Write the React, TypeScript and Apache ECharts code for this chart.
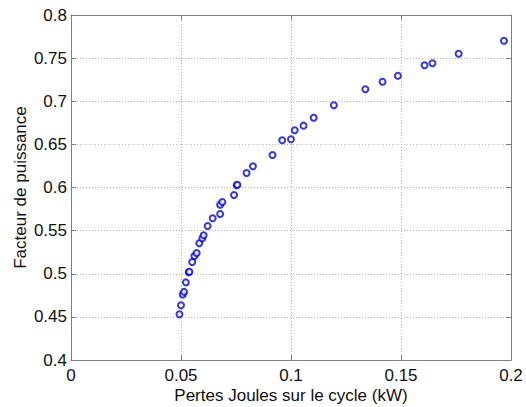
import React, { useEffect, useRef } from "react";
import * as echarts from "echarts";

const xValues = [
  0.0493, 0.05, 0.0508, 0.0514, 0.0522, 0.0535, 0.0538, 0.0551, 0.0561, 0.0571,
  0.0583, 0.0597, 0.0603, 0.0621, 0.0644, 0.0678, 0.0678, 0.0688, 0.0741, 0.0753,
  0.0756, 0.0798, 0.0827, 0.0916, 0.096, 0.1, 0.1017, 0.1057, 0.1103, 0.1195,
  0.1338, 0.1416, 0.1486, 0.1607, 0.1643, 0.1762, 0.1968,
];
const yValues = [
  0.453, 0.4634, 0.476, 0.479, 0.49, 0.5017, 0.5024, 0.5136, 0.5206, 0.524,
  0.5353, 0.5411, 0.5446, 0.5554, 0.5643, 0.5693, 0.5801, 0.5832, 0.5913, 0.6026,
  0.6031, 0.6168, 0.6246, 0.6377, 0.6547, 0.6559, 0.6663, 0.6717, 0.6809, 0.6953,
  0.7139, 0.7227, 0.7296, 0.7417, 0.744, 0.7551, 0.7702,
];
const xTicks = { min: 0, max: 0.2, interval: 0.05 };
const yTicks = { min: 0.4, max: 0.8, interval: 0.05 };
const xLabel = "Pertes Joules sur le cycle (kW)";
const yLabel = "Facteur de puissance";

export default function App() {
  const ref = useRef<HTMLDivElement>(null);
  useEffect(() => {
    if (!ref.current) return;
    const chart = echarts.init(ref.current, null, { renderer: "svg" });
    const axisColor = "#7f7f7f";
    const font = "Liberation Sans, Arial, sans-serif";
    const textColor = "#111111";
    const baseAxis = {
      type: "value" as const,
      axisLine: { show: true, onZero: false, lineStyle: { color: axisColor, width: 1 } },
      axisTick: { show: true, inside: true, length: 5, lineStyle: { color: axisColor } },
      axisLabel: { color: textColor, fontSize: 17, fontFamily: font },
      splitLine: { show: true, lineStyle: { color: "#b4b4b4", type: [1, 2] as any, width: 1 } },
    };
    const hiddenSide = {
      axisLabel: { show: false },
      splitLine: { show: false },
    };
    chart.setOption({
      animation: false,
      backgroundColor: "#ffffff",
      grid: {
        left: 71,
        right: 15,
        top: 15,
        bottom: 47,
        containLabel: false,
        outerBoundsMode: "none",
      },
      xAxis: [
        {
          ...baseAxis,
          ...xTicks,
          position: "bottom",
          name: xLabel,
          nameLocation: "middle",
          nameGap: 27,
          nameMoveOverlap: false,
          nameTextStyle: { color: textColor, fontSize: 17, fontFamily: font },
          axisLabel: { ...baseAxis.axisLabel, margin: 7 },
        },
        { ...baseAxis, ...xTicks, ...hiddenSide, position: "top" },
      ],
      yAxis: [
        {
          ...baseAxis,
          ...yTicks,
          position: "left",
          name: yLabel,
          nameLocation: "middle",
          nameGap: 42,
          nameMoveOverlap: false,
          nameTextStyle: { color: textColor, fontSize: 17, fontFamily: font },
          axisLabel: { ...baseAxis.axisLabel, margin: 4 },
        },
        { ...baseAxis, ...yTicks, ...hiddenSide, position: "right" },
      ],
      series: [
        {
          type: "scatter",
          xAxisIndex: 0,
          yAxisIndex: 0,
          data: xValues.map((x, i) => [x, yValues[i]]),
          symbol: "circle",
          symbolSize: 6,
          itemStyle: { color: "#ffffff", borderColor: "#0000ff", borderWidth: 2 },
        },
      ],
    });
    return () => chart.dispose();
  }, []);
  return (
    <div
      ref={ref}
      style={{ position: "fixed", left: 0, top: 0, width: 526, height: 407, background: "#fff" }}
    />
  );
}
